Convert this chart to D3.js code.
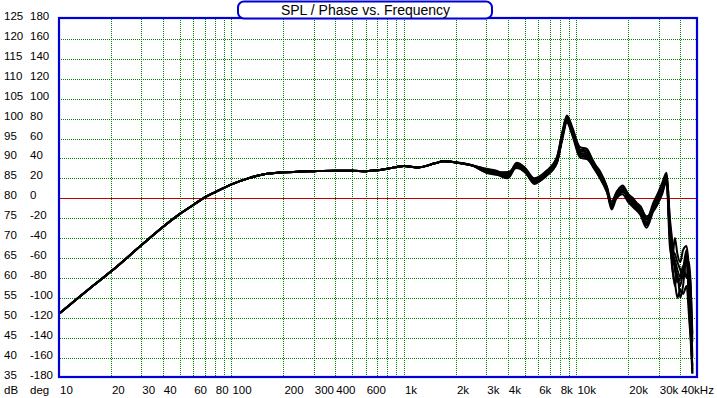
<!DOCTYPE html>
<html>
<head>
<meta charset="utf-8">
<script src="https://cdn.jsdelivr.net/npm/d3@7"></script>
<style>
  body { margin: 0; background: #fff; }
  text { font-family: "Liberation Sans", Arial, sans-serif; }
</style>
</head>
<body>
<svg id="graph" width="717" height="398"></svg>
<script>
// axis labels
var dbTicks = [125,120,115,110,105,100,95,90,85,80,75,70,65,60,55,50,45,40,35];
var degTicks = [180,160,140,120,100,80,60,40,20,0,-20,-40,-60,-80,-100,-120,-140,-160,-180];
var freqTicks = [10,20,30,40,60,80,100,200,300,400,600,1000,2000,3000,4000,6000,8000,10000,20000,30000,40000];
var freqTickLabels = ["10","20","30","40","60","80","100","200","300","400","600","1k","2k","3k","4k","6k","8k","10k","20k","30k","40kHz"];

// low frequency part, the same for every measurement
var freqLow = [10,15,20,30,40,50,60,70,80,100,125,150,200,250,300,400,500,600,700,800,1000,1200,1500,1700,2000,2500];
var splLow = [51,57.3,61.6,68.2,72.8,76.0,78.3,80.2,81.5,83.5,85.0,85.9,86.5,86.7,86.8,86.9,86.9,86.8,87.0,87.4,88.1,87.7,88.7,89.3,89.0,88.2];

// high frequency part, one array per measurement
var freqHigh = [3000,3500,4000,4500,5000,5700,6700,7700,8300,8800,9500,10500,11500,12500,13700,15000,16000,17000,18500,20000,21500,23500,25500,28000,29500,31500,33300,34800,36000,37200,38500,40000,41500,43500,45000,46000,47000];
var splA = [86.9,86.3,86.1,88.2,87.4,84.5,86.1,89.4,96.0,100.2,96.8,91.4,91.0,88.5,85.6,82.3,78.1,80.6,82.1,80.2,78.8,77.0,74.0,77.9,79.4,82.3,85.4,71.0,66.0,64.5,62.0,60.3,62.5,64.5,56.0,50.0,36.0];
var splB = [87.2,86.0,85.2,88.6,87.0,84.0,86.6,90.0,96.8,100.8,97.6,92.2,92.0,89.4,86.2,82.8,77.5,81.2,82.8,79.5,78.0,76.2,73.2,78.6,80.5,83.5,86.0,74.0,63.0,58.0,61.0,55.0,58.0,66.0,52.0,45.0,38.0];
var splC = [86.6,86.5,86.6,87.6,86.8,83.9,85.6,88.8,95.4,99.5,96.0,90.6,90.2,87.8,85.0,81.6,78.6,80.0,81.5,80.8,79.5,77.8,75.5,76.8,78.4,81.2,84.6,68.0,65.0,70.0,66.0,64.0,67.0,68.0,62.0,57.0,44.0];
var splD = [87.4,86.8,85.5,88.9,87.8,85.0,86.9,90.3,96.5,100.0,97.2,92.8,92.4,89.0,86.8,83.0,79.2,81.4,83.2,81.0,79.8,77.2,74.6,79.0,81.0,84.0,86.4,75.0,69.0,62.0,59.0,60.0,63.0,60.0,64.0,58.0,46.0];
var splE = [86.4,85.8,85.0,87.9,87.0,83.6,85.9,89.0,95.0,99.0,95.6,90.2,89.8,88.0,85.2,81.8,77.2,79.8,81.0,79.0,77.6,75.8,72.6,77.0,78.8,81.8,84.0,70.0,62.0,59.0,55.0,57.0,56.0,58.0,50.0,44.0,36.0];
var splF = [87.0,86.6,86.3,88.4,87.6,84.8,86.3,89.7,96.2,100.5,97.0,91.8,91.5,88.8,86.0,82.6,78.0,80.9,82.4,80.5,79.0,78.0,75.0,78.2,79.8,82.8,85.8,72.0,67.0,66.0,64.0,62.0,60.0,65.0,56.0,48.0,37.0];
var splG = [86.7,86.1,85.8,87.8,86.6,84.2,85.8,88.9,95.6,99.7,96.4,91.0,90.6,88.2,85.3,82.0,78.4,80.3,81.8,79.8,78.4,76.5,73.6,77.4,79.0,81.8,85.0,71.0,64.0,63.0,60.0,58.0,62.0,67.0,60.0,55.0,40.0];

var highSeries = [splA, splB, splC, splD, splE, splF, splG];

function makeChart()
{
  var plotL = 59, plotR = 697, plotT = 18, plotB = 377;

  var x = d3.scaleLog().domain([10, 50000]).range([plotL, plotR]);
  var y = d3.scaleLinear().domain([35, 125]).range([377.5, 19]);

  var svg = d3.select("#graph");
  var defs = svg.append("defs");

  defs.append("clipPath").attr("id", "plot")
    .append("rect").attr("x", plotL).attr("y", plotT).attr("width", plotR - plotL).attr("height", plotB - plotT);

  // 1 on / 1 off dots, as a checker pattern so a 1px rect shows every other pixel
  var pat = defs.append("pattern").attr("id", "dots")
    .attr("patternUnits", "userSpaceOnUse")
    .attr("width", 2).attr("height", 2);
  pat.append("rect").attr("x", 0).attr("y", 0).attr("width", 1).attr("height", 1).attr("fill", "#008000");
  pat.append("rect").attr("x", 1).attr("y", 1).attr("width", 1).attr("height", 1).attr("fill", "#008000");

  // vertical grid: every 1..9 of each decade
  var gridF = [];
  [10, 100, 1000, 10000].forEach(function(dec) {
    for (var m = 1; m <= 9; m++) {
      var f = dec * m;
      if (f > 10 && f < 50000) gridF.push(f);
    }
  });

  var grid = svg.append("g").attr("shape-rendering", "crispEdges");

  grid.selectAll("rect.v").data(gridF).enter().append("rect")
    .attr("class", "v")
    .attr("x", d => Math.round(x(d))).attr("width", 1)
    .attr("y", plotT).attr("height", plotB - plotT)
    .attr("fill", "url(#dots)");

  grid.selectAll("rect.h").data(dbTicks.filter(d => d != 125 && d != 35 && d != 80)).enter().append("rect")
    .attr("class", "h")
    .attr("x", plotL).attr("width", plotR - plotL)
    .attr("y", d => Math.round(y(d))).attr("height", 1)
    .attr("fill", "url(#dots)");

  grid.append("rect")
    .attr("x", plotL).attr("width", plotR - plotL)
    .attr("y", Math.round(y(80))).attr("height", 1)
    .attr("fill", "#c00000");

  // curves
  var line = d3.line()
    .x(d => x(d[0]))
    .y(d => y(d[1]))
    .curve(d3.curveMonotoneX);

  var curves = highSeries.map(function(s) {
    var pts = freqLow.map((f, i) => [f, splLow[i]]);
    return pts.concat(freqHigh.map((f, i) => [f, s[i]]));
  });

  svg.append("g").attr("clip-path", "url(#plot)")
    .selectAll("path").data(curves).enter().append("path")
    .attr("d", line)
    .attr("fill", "none")
    .attr("stroke", "#000")
    .attr("stroke-width", 2)
    .attr("stroke-linejoin", "round");

  // plot border
  svg.append("rect")
    .attr("x", plotL).attr("y", plotT)
    .attr("width", plotR - plotL).attr("height", plotB - plotT)
    .attr("fill", "none").attr("stroke", "#0000d8").attr("stroke-width", 2.2);

  // y labels
  var lab = svg.append("g").attr("font-size", 11.5).attr("fill", "#000");
  lab.selectAll("text.db").data(dbTicks).enter().append("text")
    .attr("class", "db")
    .attr("x", 4).attr("y", d => y(d) + 1)
    .text(d => d);
  lab.selectAll("text.deg").data(degTicks).enter().append("text")
    .attr("class", "deg")
    .attr("x", 30).attr("y", (d, i) => y(dbTicks[i]) + 1)
    .text(d => d);
  lab.append("text").attr("x", 4).attr("y", 394).text("dB");
  lab.append("text").attr("x", 30).attr("y", 394).text("deg");

  // x labels
  lab.selectAll("text.f").data(freqTicks).enter().append("text")
    .attr("class", "f")
    .attr("x", d => x(d) + 1).attr("y", 394)
    .text((d, i) => freqTickLabels[i]);

  // title box
  var tb = svg.append("g");
  tb.append("rect")
    .attr("x", 238).attr("y", 1.5).attr("width", 254).attr("height", 17)
    .attr("rx", 6).attr("ry", 6)
    .attr("fill", "#fff").attr("stroke", "#0000d8").attr("stroke-width", 2);
  tb.append("text")
    .attr("x", 365.5).attr("y", 15)
    .attr("text-anchor", "middle")
    .attr("font-size", 14)
    .text("SPL / Phase vs. Frequency");
}

makeChart();
</script>
</body>
</html>
